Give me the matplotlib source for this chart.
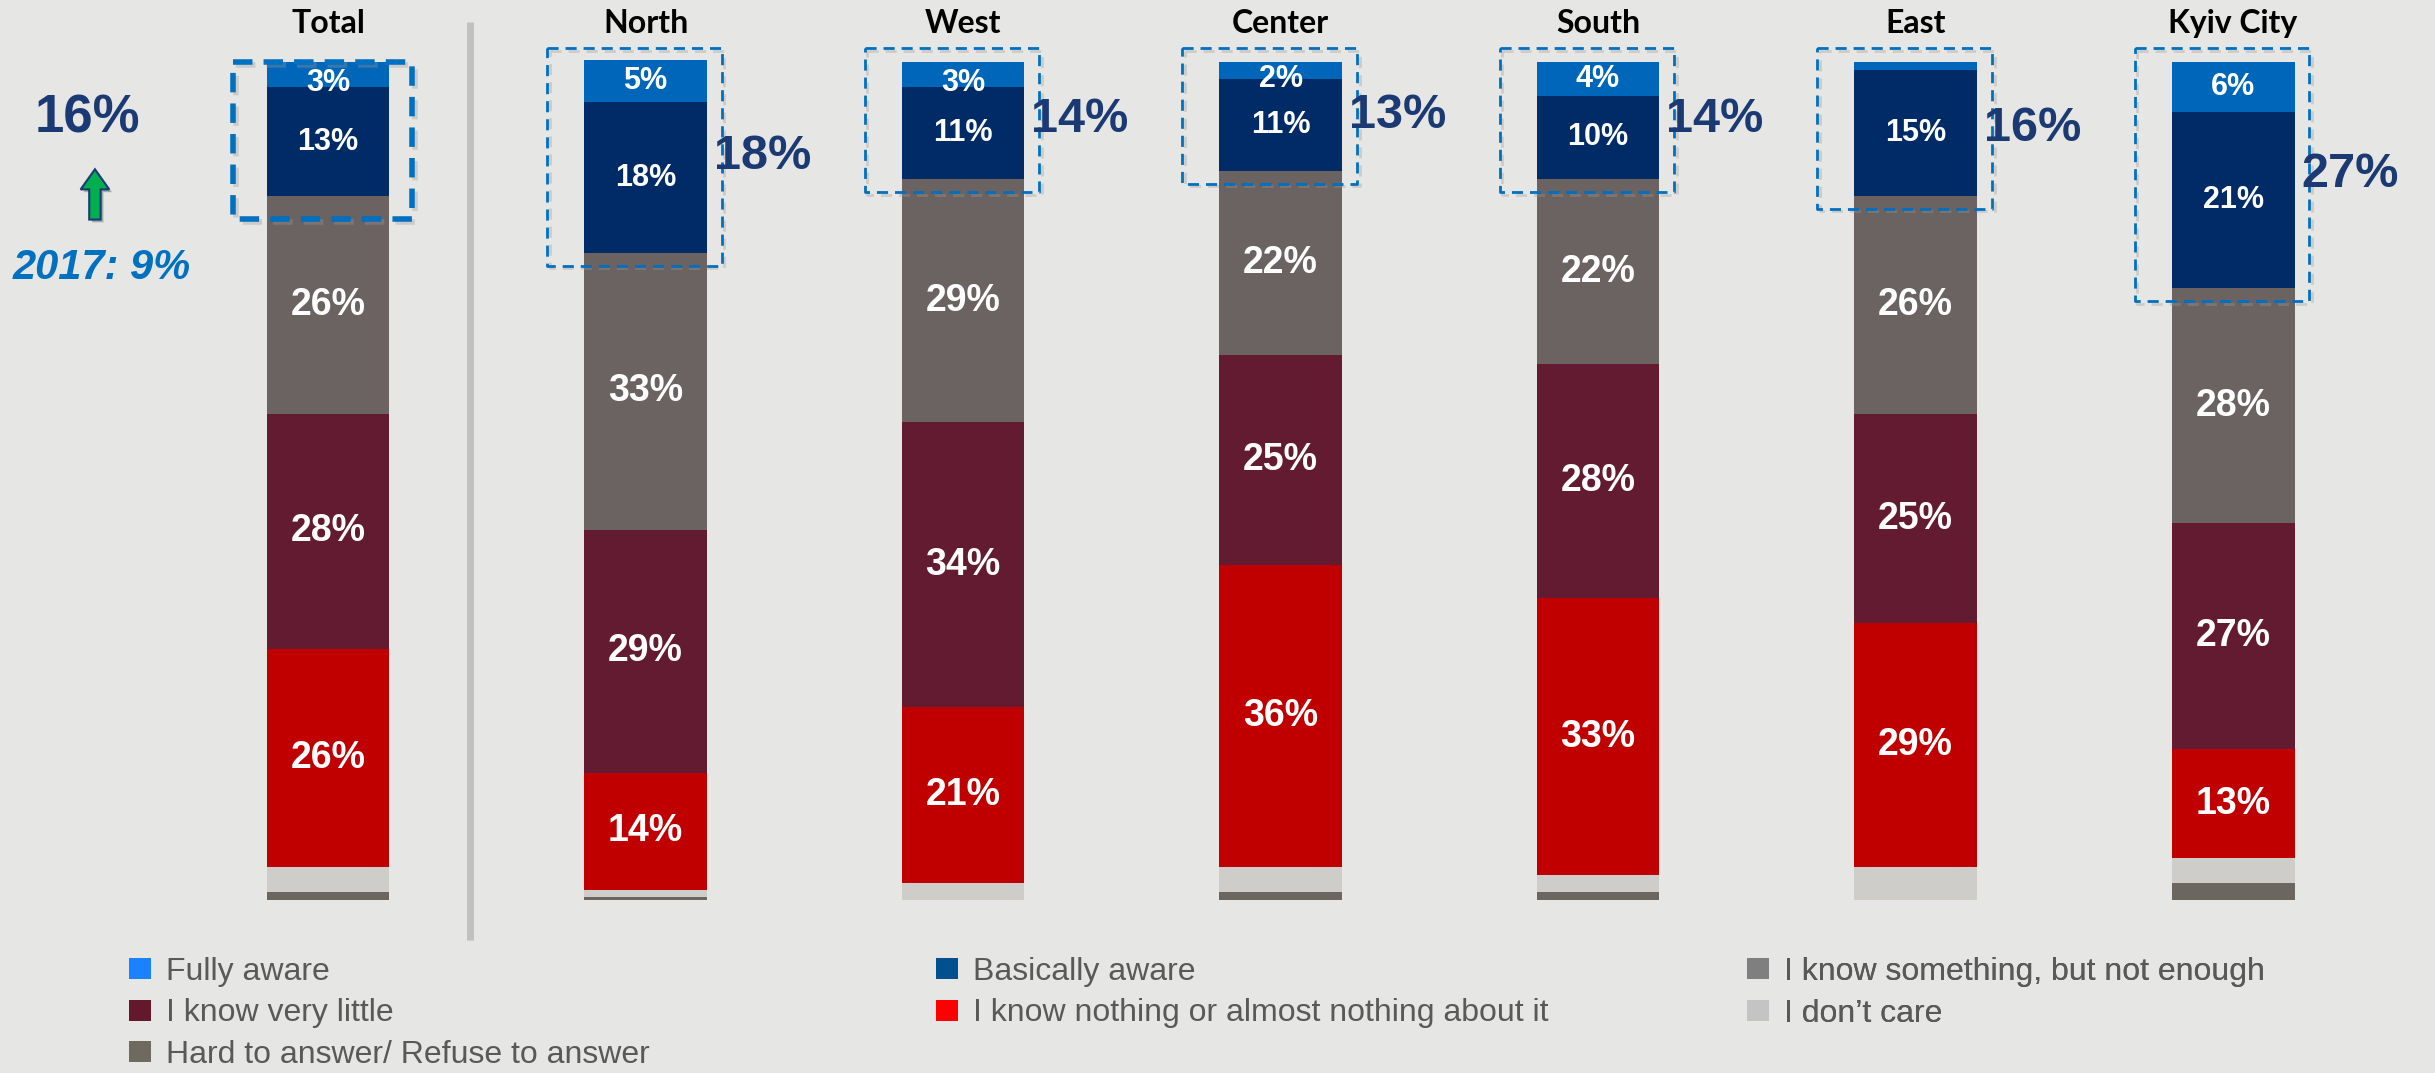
import numpy as np
import matplotlib
matplotlib.use("Agg")
import matplotlib.pyplot as plt
from matplotlib.patches import Patch, FancyArrow
import matplotlib.patheffects as pe

# ---------------- data ----------------
categories = ["Total", "North", "West", "Center", "South", "East", "Kyiv City"]
fully_aware = [3, 5, 3, 2, 4, 1, 6]
basically_aware = [13, 18, 11, 11, 10, 15, 21]
know_something = [26, 33, 29, 22, 22, 26, 28]
know_little = [28, 29, 34, 25, 28, 25, 27]
know_nothing = [26, 14, 21, 36, 33, 29, 13]
dont_care = [3, 0.8, 2, 3, 2, 4, 3]
hard_to_answer = [1, 0.4, 0, 1, 1, 0, 2]
aware_total = [16, 18, 14, 13, 14, 16, 27]
aware_2017 = "2017: 9%"

series_names = ["Fully aware", "Basically aware", "I know something, but not enough",
                "I know very little", "I know nothing or almost nothing about it",
                "I don\u2019t care", "Hard to answer/ Refuse to answer"]

# ---------------- style ----------------
BG = "#E6E6E4"
bar_colors = ["#0066B9", "#002B66", "#6B6361", "#621B30", "#C00000", "#CFCDC9", "#6B6660"]
legend_colors = ["#1A82FF", "#00508F", "#7F7F7F", "#63182E", "#FF0000", "#C4C4C4", "#6E6A60"]
NAVY = "#1B3A73"
BOXBLUE = "#0070C0"
SANS = ["Liberation Sans", "DejaVu Sans"]

fig = plt.figure(figsize=(24.35, 10.73), dpi=100, facecolor=BG)
ax = fig.add_axes([0, 0, 1, 1])
ax.set_facecolor(BG)
ax.set_xlim(-1.033, 6.636)
ax.set_ylim(-20.64, 107.4)
ax.axis("off")

x = np.arange(len(categories))
width = 0.387

stack_bottom_to_top = [hard_to_answer, dont_care, know_nothing, know_little,
                       know_something, basically_aware, fully_aware]
colors_bottom_to_top = bar_colors[::-1]
bottom = np.zeros(len(categories))
label_layers = {2: 27, 3: 27, 4: 27, 5: 22, 6: 22}  # layer index -> fontsize
for li, (vals, col) in enumerate(zip(stack_bottom_to_top, colors_bottom_to_top)):
    vals = np.array(vals, dtype=float)
    ax.bar(x, vals, width, bottom=bottom, color=col, linewidth=0, zorder=2)
    if li in label_layers:
        for xi, v, b in zip(x, vals, bottom):
            if v >= 2:
                yc = b + v / 2
                if v < 4:
                    yc -= 1.0
                ax.text(xi, yc, f"{int(v)}%", ha="center", va="center",
                        color="white", fontsize=label_layers[li], fontweight="bold",
                        family=SANS, zorder=5)
    bottom = bottom + vals
tops = bottom

# ---------------- headers ----------------
for xi, cat in zip(x, categories):
    ax.text(xi, 104.6, cat, ha="center", va="center", fontsize=23,
            fontweight="bold", family=["Lato", "DejaVu Sans"], color="black")

# separator
ax.plot([0.447, 0.447], [104.8, -4.8], color="#C0C0C0", lw=5, solid_capstyle="butt", zorder=1)

# ---------------- awareness boxes ----------------
shadow = [pe.SimpleLineShadow(offset=(2, -2), shadow_color="#9a9a9a", alpha=0.35), pe.Normal()]
for i, xi in enumerate(x):
    basic_bottom = tops[i] - fully_aware[i] - basically_aware[i]
    if i == 0:
        left, right, top, bot = xi - 0.30, xi + 0.265, 100.0, basic_bottom - 2.7
        lw, dash = 4, (3.5, 2)
    else:
        left, right, top, bot = xi - 0.31, xi + 0.24, 101.7, basic_bottom - 1.5
        lw, dash = 2, (4, 2.5)
    xs = [left, right, right, left, left]
    ys = [top, top, bot, bot, top]
    ax.plot(xs, ys, color=BOXBLUE, lw=lw, linestyle=(0, dash), zorder=6,
            path_effects=shadow)
    if i > 0:
        ax.text(right - 0.025, (top + bot) / 2, f"{aware_total[i]}%", ha="left",
                va="center", fontsize=35, fontweight="bold", family=SANS,
                color=NAVY, zorder=7)

# Total annotations on the left
ax.text(-0.759, 93.3, f"{aware_total[0]}%", ha="center", va="center", fontsize=38,
        fontweight="bold", family=SANS, color=NAVY)
arrow = FancyArrow(-0.734, 81.2, 0, 6.0, width=0.036, head_width=0.09,
                   head_length=2.4, length_includes_head=True,
                   facecolor="#00B050", edgecolor="#1B3A73", linewidth=1.5, zorder=5,
                   path_effects=[pe.SimplePatchShadow(offset=(2, -2), alpha=0.3), pe.Normal()])
ax.add_patch(arrow)
ax.text(-0.713, 75.4, aware_2017, ha="center", va="center", fontsize=30,
        fontweight="bold", fontstyle="italic", family=SANS, color="#0070C0")

# ---------------- legend ----------------
handles = [Patch(facecolor=c, edgecolor="none") for c in legend_colors]
col_groups = [[0, 3, 6], [1, 4], [2, 5]]
col_x = [129, 936, 1747]
for grp, cx in zip(col_groups, col_x):
    leg = ax.legend([handles[k] for k in grp], [series_names[k] for k in grp],
                    loc="upper left", bbox_to_anchor=(cx / 2435, 1 - 957 / 1073),
                    bbox_transform=fig.transFigure, frameon=False, borderpad=0,
                    borderaxespad=0, handlelength=0.68, handleheight=0.62,
                    handletextpad=0.47, labelspacing=0.36,
                    prop={"family": SANS, "size": 23})
    for t in leg.get_texts():
        t.set_color("#595959")
    ax.add_artist(leg)

fig.savefig("out.png", dpi=100, facecolor=BG)
